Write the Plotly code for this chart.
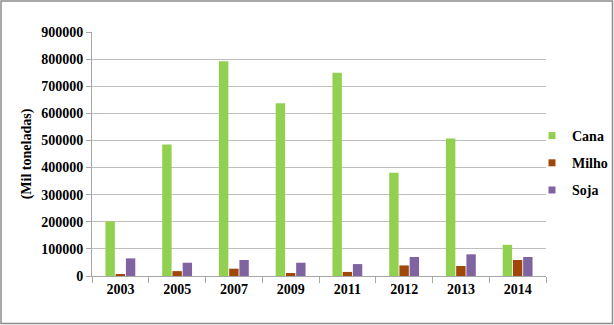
import plotly.graph_objects as go

anos = ["2003", "2005", "2007", "2009", "2011", "2012", "2013", "2014"]
cana = [202000, 485000, 792000, 637000, 750000, 381000, 507000, 115000]
milho = [4000, 18000, 27000, 11000, 15000, 39000, 37000, 59000]
soja = [65000, 49000, 59000, 49000, 44000, 70000, 80000, 70000]
series = ["Cana", "Milho", "Soja"]
colors = ["#92D050", "#A0470A", "#8064A2"]

W, H = 614, 325
L, R, T, B = 92, 68, 32, 49
pw, ph = W - L - R, H - T - B

FAM = "Liberation Serif, Times New Roman, serif"
font = dict(family=FAM, size=14, color="black")

def px(x):
    return (x - L) / pw

def py(y):
    return (T + ph - y) / ph

fig = go.Figure()
for name, vals, c in zip(series, [cana, milho, soja], colors):
    fig.add_bar(x=anos, y=vals, name=name, showlegend=False,
                marker=dict(color=c, line=dict(width=0)))
for name, c in zip(series, colors):
    fig.add_scatter(x=[None], y=[None], mode="markers", name="<b>" + name + "</b>",
                    legendgroup=name,
                    marker=dict(symbol="square", size=7, color=c))

fig.update_layout(
    width=W, height=H,
    margin=dict(l=L, r=R, t=T, b=B, pad=0, autoexpand=False),
    paper_bgcolor="white", plot_bgcolor="white",
    barmode="group", bargap=0.46, bargroupgap=0.08,
    font=font,
    showlegend=True,
    legend=dict(x=px(532), y=py(163), xanchor="left", yanchor="middle",
                font=dict(family=FAM, size=14, color="black"),
                itemwidth=30, tracegroupgap=6, bgcolor="rgba(0,0,0,0)"),
    xaxis=dict(type="category", showline=True, linecolor="#A6A6A6", linewidth=1,
               ticks="outside", tickson="boundaries", ticklen=6, tickcolor="#A6A6A6",
               tickfont=dict(family=FAM, size=14, color="black"),
               tickprefix="<b>", ticksuffix="</b>",
               showgrid=False, automargin=False),
    yaxis=dict(range=[0, 900000], dtick=100000, tickformat="d",
               showline=True, linecolor="#A6A6A6", linewidth=1,
               ticks="outside", ticklen=5, tickcolor="#A6A6A6",
               gridcolor="#BFBFBF", gridwidth=1, zeroline=False,
               tickfont=dict(family=FAM, size=14, color="black"),
               tickprefix="<b>", ticksuffix="</b>", automargin=False,
               title=dict(text="<b>(Mil toneladas)</b>", standoff=6,
                          font=dict(family=FAM, size=14, color="black"))),
)

fig.add_shape(type="rect", xref="paper", yref="paper",
              x0=px(1), x1=px(W - 1.5), y0=py(H - 1.5), y1=py(1),
              line=dict(color="#8C8C8C", width=1.5), layer="below")

fig.write_html("out.html", config={"displayModeBar": False},
               post_script="document.body.style.margin='0';document.body.style.overflow='hidden';")
